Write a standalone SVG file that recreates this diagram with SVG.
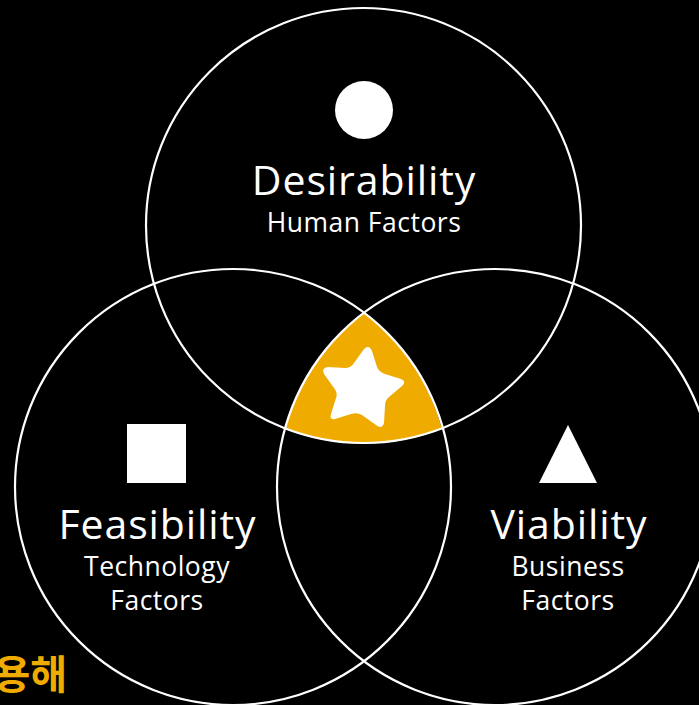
<svg xmlns="http://www.w3.org/2000/svg" width="699" height="705" viewBox="0 0 699 705">
<style>
.ring{fill:none;stroke:#fff;stroke-width:2.2}
.shape{fill:#fff}
.t{font-family:"Open Sans","Noto Sans",sans-serif;fill:#fff;text-anchor:middle;font-weight:400}
.big{font-size:41px;letter-spacing:.9px}
.sm{font-size:26.500px;letter-spacing:.5px}
.ko{font-family:"Noto Sans CJK KR",sans-serif;font-weight:700;font-size:40px;fill:#f0ab00;text-anchor:end}
</style>
<rect width="699" height="705" fill="#000"/>
<text class="ko" x="67" y="689">용해</text>
<g id="core">
<path d="M364 313 A218 218 0 0 1 442 429 A217.500 217.500 0 0 1 285 429 A218 218 0 0 1 364 313Z" fill="#f0ab00"/>
<path class="shape" d="M364 349Q369 344 372 351L377 367Q379 372 385 374L401 379Q407 382 402 386L389 397Q385 400 385 406L384 423Q382 430 376 425L362 415Q357 412 351 414L335 419Q329 420 331 414L336 398Q338 393 334 388L324 374Q321 368 328 367L345 368Q351 368 354 363Z"/>
</g>
<g id="connectors">
<circle class="ring" cx="363.500" cy="225.500" r="217.500"/>
<circle class="ring" cx="233" cy="487" r="218"/>
<circle class="ring" cx="495" cy="487" r="218"/>
</g>
<g id="desirability">
<circle class="shape" cx="364" cy="110" r="29"/>
<text class="t big" x="364" y="195">Desirability</text>
<text class="t sm" x="364" y="232">Human Factors</text>
</g>
<g id="feasibility">
<rect class="shape" x="127" y="424" width="59" height="59"/>
<text class="t big" x="157.500" y="539">Feasibility</text>
<text class="t sm" x="157" y="576">Technology</text>
<text class="t sm" x="157" y="610">Factors</text>
</g>
<g id="viability">
<path class="shape" d="M568 425L597 483H539Z"/>
<text class="t big" x="569" y="539">Viability</text>
<text class="t sm" x="568" y="576">Business</text>
<text class="t sm" x="568" y="610">Factors</text>
</g>
</svg>
